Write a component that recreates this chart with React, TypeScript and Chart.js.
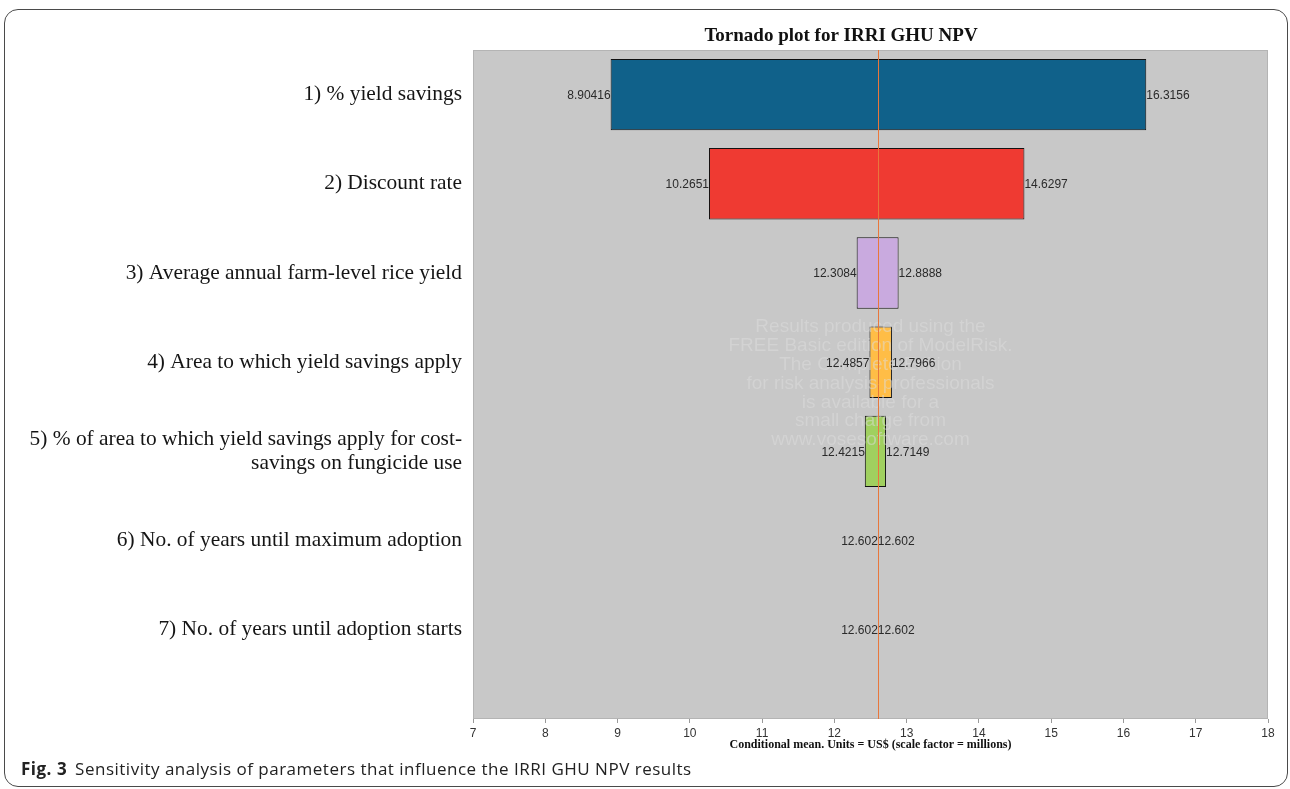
import React, { useEffect, useRef } from "react";
import { Chart, registerables } from "chart.js";

Chart.register(...registerables);

// ---------- data ----------
const parameterLabels: (string | string[])[] = [
  "1) % yield savings",
  "2) Discount rate",
  "3) Average annual farm-level rice yield",
  "4) Area to which yield savings apply",
  ["5) % of area to which yield savings apply for cost-", "savings on fungicide use"],
  "6) No. of years until maximum adoption",
  "7) No. of years until adoption starts",
];
const lowValues = [8.90416, 10.2651, 12.3084, 12.4857, 12.4215, 12.602, 12.602];
const highValues = [16.3156, 14.6297, 12.8888, 12.7966, 12.7149, 12.602, 12.602];
const barColors = ["#10618a", "#ef3a32", "#c9aadf", "#ffbd46", "#a0d05f", "#888888", "#888888"];
const meanValue = 12.602;
const xMin = 7;
const xMax = 18;
const chartTitle = "Tornado plot for IRRI GHU NPV";
const xAxisTitle = "Conditional mean. Units = US$ (scale factor = millions)";
const watermarkLines = [
  "Results produced using the",
  "FREE Basic edition of ModelRisk.",
  "The Complete Edition",
  "for risk analysis professionals",
  "is available for a",
  "small charge from",
  "www.vosesoftware.com",
];
const captionLabel = "Fig. 3";
const captionText = "Sensitivity analysis of parameters that influence the IRRI GHU NPV results";

const tornadoPlugin = {
  id: "tornadoExtras",
  beforeDraw(chart: any) {
    const { ctx, chartArea: a } = chart;
    ctx.save();
    ctx.fillStyle = "#c8c8c8";
    ctx.fillRect(a.left, a.top, a.right - a.left, a.bottom - a.top);
    ctx.strokeStyle = "#b4b4b4";
    ctx.lineWidth = 1;
    ctx.strokeRect(a.left + 0.5, a.top + 0.5, a.right - a.left - 1, a.bottom - a.top - 1);
    ctx.restore();
  },
  afterDatasetsDraw(chart: any) {
    const { ctx, chartArea: a } = chart;
    const xs = chart.scales.x;
    const ys = chart.scales.y;
    ctx.save();
    // watermark
    ctx.font = "19px 'Liberation Sans', Arial, sans-serif";
    ctx.fillStyle = "rgba(222,222,222,0.5)";
    ctx.textAlign = "center";
    ctx.textBaseline = "middle";
    const wx = (a.left + a.right) / 2;
    const wy0 = ys.getPixelForValue(4) - 35;
    watermarkLines.forEach((line, i) => {
      ctx.fillText(line, wx, wy0 + i * 18.8);
    });
    // value labels
    ctx.font = "12px 'Liberation Sans', Arial, sans-serif";
    ctx.fillStyle = "#2a2a2a";
    lowValues.forEach((lo, i) => {
      const y = ys.getPixelForValue(i + 1) + 1;
      ctx.textAlign = "right";
      ctx.fillText(String(lo), xs.getPixelForValue(lo), y);
      ctx.textAlign = "left";
      ctx.fillText(String(highValues[i]), xs.getPixelForValue(highValues[i]), y);
    });
    // mean line
    const mx = Math.round(xs.getPixelForValue(meanValue)) + 0.5;
    ctx.strokeStyle = "#e8773c";
    ctx.lineWidth = 1;
    ctx.beginPath();
    ctx.moveTo(mx, a.top);
    ctx.lineTo(mx, a.bottom);
    ctx.stroke();
    ctx.restore();
  },
  afterDraw(chart: any) {
    const { ctx } = chart;
    ctx.save();
    ctx.font = "bold 19px 'Liberation Serif', 'Times New Roman', serif";
    ctx.fillStyle = "#111";
    ctx.textAlign = "center";
    ctx.textBaseline = "alphabetic";
    ctx.fillText(chartTitle, 841, 41);
    ctx.restore();
  },
};

export default function App() {
  const canvasRef = useRef<HTMLCanvasElement | null>(null);

  useEffect(() => {
    if (!canvasRef.current) return;
    const chart = new Chart(canvasRef.current, {
      type: "bar",
      data: {
        datasets: [
          {
            data: lowValues.map((lo, i) => ({ x: [lo, highValues[i]], y: i + 1 })) as any,
            backgroundColor: barColors,
            borderColor: "#111",
            borderWidth: (c: any) =>
              lowValues[c.dataIndex] === highValues[c.dataIndex] ? 0 : 1,
            borderSkipped: false,
            barPercentage: 1,
            categoryPercentage: 0.8,
          } as any,
        ],
      },
      options: {
        indexAxis: "y",
        animation: false,
        responsive: false,
        devicePixelRatio: 1,
        layout: { padding: { left: 0, right: 22, top: 50, bottom: 0 } },
        plugins: {
          legend: { display: false },
          tooltip: { enabled: false },
          title: { display: false },
        },
        scales: {
          x: {
            type: "linear",
            position: "bottom",
            min: xMin,
            max: xMax,
            afterFit: (s: any) => {
              s.height = 41;
            },
            ticks: {
              stepSize: 1,
              color: "#333",
              padding: 3,
              font: { family: "'Liberation Sans', Arial, sans-serif", size: 12 },
            },
            grid: {
              display: true,
              drawOnChartArea: false,
              drawTicks: true,
              tickLength: 4,
              color: "#999",
            },
            border: { display: false },
            title: {
              display: true,
              text: xAxisTitle,
              color: "#111",
              font: { family: "'Liberation Serif', 'Times New Roman', serif", size: 12, weight: "bold" },
              padding: { top: 0, bottom: 8 },
            },
          },
          y: {
            type: "linear",
            min: 0.5,
            max: 8,
            offset: false,
            reverse: true,
            afterFit: (s: any) => {
              s.width = 473;
            },
            afterBuildTicks: (s: any) => {
              s.ticks = parameterLabels.map((_, i) => ({ value: i + 1 }));
            },
            ticks: {
              callback: (v: any) => parameterLabels[Number(v) - 1] as any,
              color: "#151515",
              padding: 11,
              font: { family: "'Liberation Serif', 'Times New Roman', serif", size: 21.4, lineHeight: 1.15 },
            },
            grid: { display: false, drawTicks: false, offset: false },
            border: { display: false },
          },
        },
      } as any,
      plugins: [tornadoPlugin],
    });
    return () => chart.destroy();
  }, []);

  return (
    <div
      style={{
        position: "fixed",
        left: 0,
        top: 0,
        width: 1290,
        height: 789,
        background: "#fff",
        overflow: "hidden",
      }}
    >
      <canvas
        ref={canvasRef}
        width={1290}
        height={760}
        style={{ position: "absolute", left: 0, top: 0, width: 1290, height: 760 }}
      />
      <div
        style={{
          position: "absolute",
          left: 4,
          top: 9,
          width: 1284,
          height: 778,
          border: "1.3px solid #4a4a4a",
          borderRadius: 14,
          boxSizing: "border-box",
          pointerEvents: "none",
        }}
      />
      <div
        style={{
          position: "absolute",
          left: 21,
          top: 757,
          fontFamily: "'Open Sans', 'Noto Sans', sans-serif",
          fontSize: 17,
          letterSpacing: 0.5,
          color: "#222",
          whiteSpace: "nowrap",
        }}
      >
        <span style={{ fontWeight: 700 }}>{captionLabel}</span>
        <span style={{ marginLeft: 8 }}>{captionText}</span>
      </div>
    </div>
  );
}
